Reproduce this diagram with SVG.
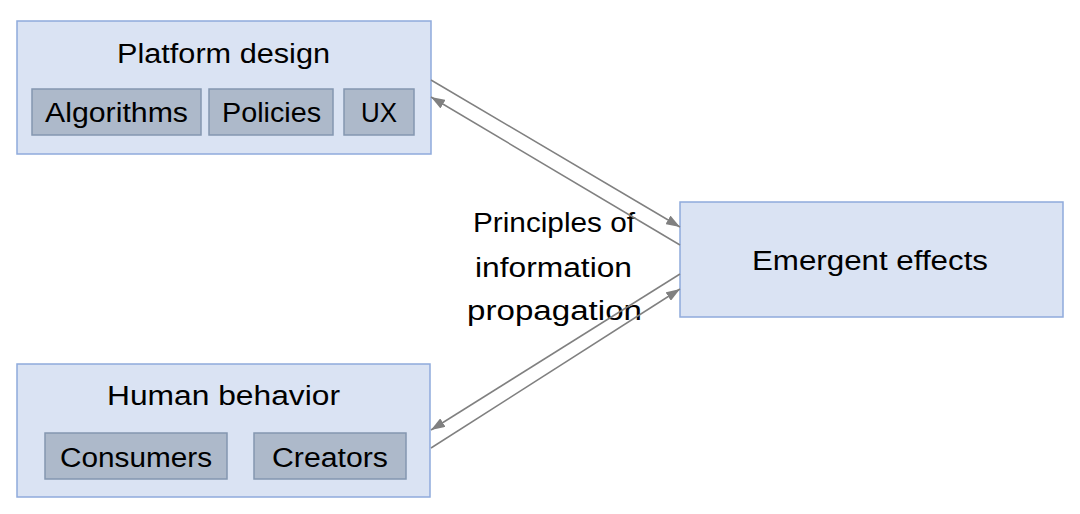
<svg xmlns="http://www.w3.org/2000/svg" width="1080" height="514" viewBox="0 0 1080 514">
<defs>
<style>
.box{fill:#dae3f3;stroke:#8faadc;stroke-width:1.5}
.sub{fill:#adb9ca;stroke:#8497b0;stroke-width:1.5}
.t{font-family:"Liberation Sans",Arial,sans-serif;font-size:27px;fill:#000;text-anchor:middle}
.c{stroke:#808080;stroke-width:1.5;fill:none;marker-end:url(#ah)}
</style>
<marker id="ah" viewBox="0 0 14 10" refX="14" refY="5" markerWidth="14" markerHeight="10" markerUnits="userSpaceOnUse" orient="auto">
<path d="M0,0 L14,5 L0,10 z" fill="#808080"/>
</marker>
</defs>
<rect width="1080" height="514" fill="#fff"/>
<g id="platform">
<rect class="box" x="17" y="21" width="414" height="133"/>
<text class="t" x="223.5" y="63" textLength="213" lengthAdjust="spacingAndGlyphs">Platform design</text>
<rect class="sub" x="32" y="89" width="169" height="46"/>
<text class="t" x="116.5" y="122" textLength="143" lengthAdjust="spacingAndGlyphs">Algorithms</text>
<rect class="sub" x="209" y="89" width="124" height="46"/>
<text class="t" x="271.5" y="122" textLength="99" lengthAdjust="spacingAndGlyphs">Policies</text>
<rect class="sub" x="344" y="89" width="70" height="46"/>
<text class="t" x="379" y="122" textLength="36" lengthAdjust="spacingAndGlyphs">UX</text>
</g>
<g id="human">
<rect class="box" x="17" y="364" width="413" height="133"/>
<text class="t" x="223.5" y="405" textLength="233" lengthAdjust="spacingAndGlyphs">Human behavior</text>
<rect class="sub" x="45" y="433" width="182" height="46"/>
<text class="t" x="136" y="467" textLength="152" lengthAdjust="spacingAndGlyphs">Consumers</text>
<rect class="sub" x="254" y="433" width="152" height="46"/>
<text class="t" x="330" y="467" textLength="116" lengthAdjust="spacingAndGlyphs">Creators</text>
</g>
<g id="emergent">
<rect class="box" x="680" y="202" width="383" height="115"/>
<text class="t" x="870" y="270" textLength="236" lengthAdjust="spacingAndGlyphs">Emergent effects</text>
</g>
<g id="label">
<text class="t" x="554" y="232" textLength="162" lengthAdjust="spacingAndGlyphs">Principles of</text>
<text class="t" x="553.5" y="277" textLength="157" lengthAdjust="spacingAndGlyphs">information</text>
<text class="t" x="554.5" y="320" textLength="175" lengthAdjust="spacingAndGlyphs">propagation</text>
</g>
<g id="connectors">
<line class="c" x1="431" y1="80" x2="680" y2="227"/>
<line class="c" x1="680" y1="245" x2="431" y2="97"/>
<line class="c" x1="680" y1="274" x2="431" y2="430"/>
<line class="c" x1="431" y1="448" x2="680" y2="289"/>
</g>
</svg>
